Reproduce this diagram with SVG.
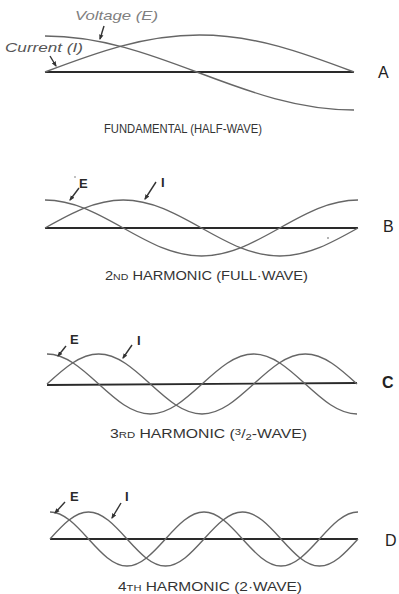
<svg xmlns="http://www.w3.org/2000/svg" width="399" height="594" viewBox="0 0 399 594">
<style>
.wave{fill:none;stroke:#666;stroke-width:1.4}
.axis{fill:none;stroke:#2a2a2a;stroke-width:1.8}
.ptr{fill:none;stroke:#333;stroke-width:1.4;marker-end:url(#ah)}
.lbl{font-family:"Liberation Sans",Arial,sans-serif;fill:#2a2a2a;font-size:13px;font-weight:bold}
.cap{font-family:"Liberation Sans",Arial,sans-serif;font-size:12.5px;fill:#333}
.pan{font-family:"Liberation Sans",Arial,sans-serif;font-size:16px;fill:#222}
.it{font-family:"Liberation Sans",Arial,sans-serif;font-style:italic;font-size:13.5px}
</style>
<defs>
<marker id="ah" viewBox="0 0 10 10" refX="8" refY="5" markerWidth="5.5" markerHeight="5.5" orient="auto" markerUnits="userSpaceOnUse">
<path d="M0,1 L10,5 L0,9 z" fill="#333"/>
</marker>
</defs>
<rect width="399" height="594" fill="#fff"/>

<g id="panelA">
<path class="axis" d="M45,72 L354,72"/>
<path class="wave" d="M45,72 c50.38,-18.96 98.59,-37 154.5,-37 c55.91,0 104.12,18.04 154.5,37"/>
<path class="wave" d="M45,36 c55.91,0 104.12,18.04 154.5,37 c50.38,18.96 98.59,37 154.5,37"/>
<text class="it" x="75" y="20" fill="#808080" textLength="83" lengthAdjust="spacingAndGlyphs">Voltage (E)</text>
<text class="it" x="5" y="52" fill="#555" textLength="78" lengthAdjust="spacingAndGlyphs">Current (I)</text>
<text class="pan" x="378" y="78">A</text>
<text class="cap" x="104" y="133" font-size="11.5" textLength="158" lengthAdjust="spacingAndGlyphs">FUNDAMENTAL (HALF-WAVE)</text>
</g>

<g id="panelB">
<path class="axis" d="M45,228 L358,228"/>
<path class="wave" d="M45,228 c25.52,-14.34 49.93,-28 78.25,-28 c28.32,0 52.73,13.66 78.25,28 c25.52,14.34 49.93,28 78.25,28 c28.32,0 52.73,-13.66 78.25,-28"/>
<path class="wave" d="M45,200 c28.32,0 52.73,13.66 78.25,28 c25.52,14.34 49.93,28 78.25,28 c28.32,0 52.73,-13.66 78.25,-28 c25.52,-14.34 49.930,-28 78.25,-28"/>
<text class="lbl" x="79" y="188">E</text>
<text class="lbl" x="161" y="187">I</text>
<circle cx="75" cy="177" r="0.7" fill="#555"/>
<circle cx="328" cy="238" r="0.8" fill="#555"/>
<text class="pan" x="383" y="232">B</text>
<text class="cap" x="105" y="280" textLength="203" lengthAdjust="spacingAndGlyphs">2<tspan font-size="9">ND</tspan> HARMONIC (FULL·WAVE)</text>
</g>

<g id="panelC">
<path class="axis" d="M47,385 L357,383"/>
<path class="wave" d="M47,384 c16.85,-15.37 32.97,-30 51.67,-30 c18.7,0 34.82,14.63 51.67,30 c16.85,15.37 32.97,30 51.67,30 c18.7,0 34.82,-14.63 51.67,-30 c16.85,-15.37 32.97,-30 51.67,-30 c18.7,0 34.82,14.63 51.67,30"/>
<path class="wave" d="M47,354 c18.7,0 34.82,14.63 51.67,30 c16.85,15.37 32.97,30 51.67,30 c18.7,0 34.82,-14.63 51.67,-30 c16.85,-15.37 32.97,-30 51.67,-30 c18.7,0 34.82,14.63 51.67,30 c16.85,15.37 32.97,30 51.67,30"/>
<text class="lbl" x="70" y="344">E</text>
<text class="lbl" x="137" y="345">I</text>
<text class="pan" x="382" y="388" font-weight="bold">C</text>
<text class="cap" x="110" y="438" textLength="197" lengthAdjust="spacingAndGlyphs">3<tspan font-size="9">RD</tspan> HARMONIC (<tspan font-size="9" dy="-3">3</tspan><tspan dy="3">/</tspan><tspan font-size="9" dy="2">2</tspan><tspan dy="-2">-WAVE)</tspan></text>
</g>

<g id="panelD">
<path class="axis" d="M50,539 L358,539"/>
<path class="wave" d="M50,539 c12.55,-13.83 24.57,-27 38.5,-27 c13.93,0 25.95,13.17 38.5,27 c12.55,13.83 24.57,27 38.5,27 c13.93,0 25.95,-13.17 38.5,-27 c12.55,-13.83 24.57,-27 38.5,-27 c13.93,0 25.95,13.17 38.5,27 c12.55,13.83 24.57,27 38.5,27 c13.93,0 25.95,-13.17 38.5,-27"/>
<path class="wave" d="M50,512 c13.93,0 25.95,13.17 38.5,27 c12.55,13.83 24.57,27 38.5,27 c13.93,0 25.95,-13.17 38.5,-27 c12.55,-13.83 24.57,-27 38.5,-27 c13.93,0 25.95,13.17 38.5,27 c12.55,13.83 24.57,27 38.5,27 c13.93,0 25.95,-13.17 38.5,-27 c12.55,-13.83 24.57,-27 38.5,-27"/>
<text class="lbl" x="70" y="501">E</text>
<text class="lbl" x="125" y="501">I</text>
<text class="pan" x="385" y="546">D</text>
<text class="cap" x="118" y="591" textLength="184" lengthAdjust="spacingAndGlyphs">4<tspan font-size="9">TH</tspan> HARMONIC (2·WAVE)</text>
</g>

<g id="connectors">
<path class="ptr" d="M104,26 L100,39"/>
<path class="ptr" d="M50,56 L56,66"/>
<path class="ptr" d="M79,188 L70,200"/>
<path class="ptr" d="M156,182 L145,199"/>
<path class="ptr" d="M66,346 L58,356"/>
<path class="ptr" d="M132,345 L123,358"/>
<path class="ptr" d="M65,502 L55,513"/>
<path class="ptr" d="M121,503 L112,518"/>
</g>
</svg>
